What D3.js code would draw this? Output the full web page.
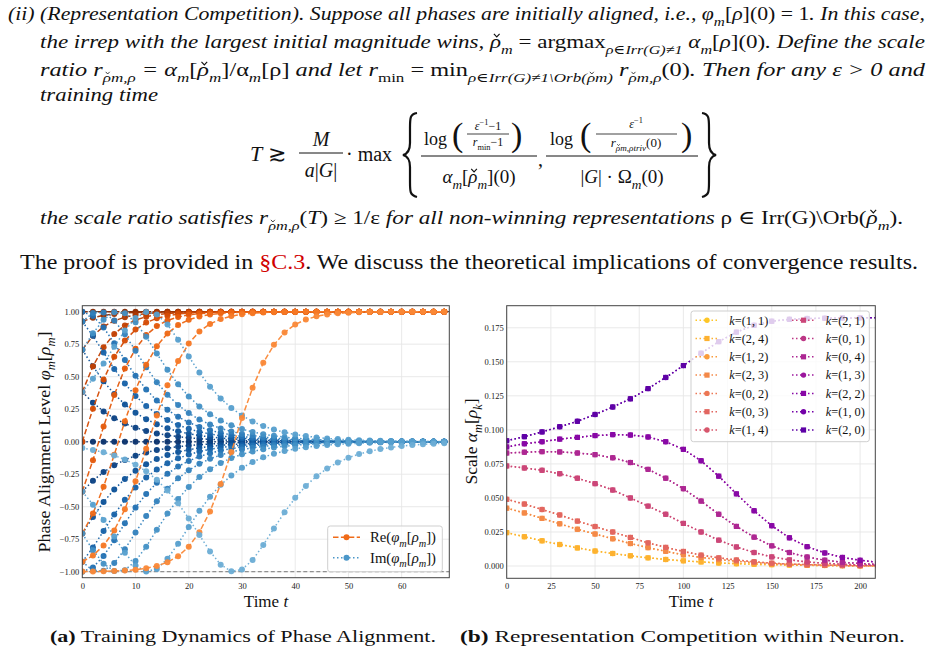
<!DOCTYPE html>
<html>
<head>
<meta charset="utf-8">
<script src="https://cdn.jsdelivr.net/npm/d3@7"></script>
<style>
  body { margin: 0; background: #fff; }
  svg { display: block; }
</style>
</head>
<body>
<div id="page"></div>
<script>
// ---------- panel (a): phase alignment, one marker every 2 time units ----------
var timeA = [0,2,4,6,8,10,12,14,16,18,20,22,24,26,28,30,32,34,36,38,40,42,44,46,48,50,52,54,56,58,60,62,64,66,68];

// real parts, one per initial phase magnitude (mirrored phases share them)
var reP0 = [1,1,1,1,1, 1,1,1,1,1, 1,1,1,1,1, 1,1,1,1,1, 1,1,1,1,1, 1,1,1,1,1, 1,1,1,1,1];
var reP1 = [0.924,0.954,0.972,0.983,0.990,0.994,0.997,0.998,0.999, 1,1,1,1,1, 1,1,1,1,1, 1,1,1,1,1, 1,1,1,1,1, 1,1,1,1,1, 1];
var reP2 = [0.707,0.815,0.886,0.930,0.958,0.975,0.985,0.991,0.995,0.997,0.998,0.999, 1,1,1,1,1, 1,1,1,1,1, 1,1,1,1,1, 1,1,1,1,1, 1,1,1];
var reP3 = [0.383,0.580,0.727,0.829,0.894,0.936,0.961,0.977,0.986,0.992,0.995,0.997,0.998,0.999, 1,1,1,1,1, 1,1,1,1,1, 1,1,1,1,1, 1,1,1,1,1, 1];
var reP4 = [0,0.254,0.478,0.653,0.778,0.862,0.916,0.949,0.969,0.982,0.989,0.993,0.996,0.998,0.999, 1,1,1,1,1, 1,1,1,1,1, 1,1,1,1,1, 1,1,1,1,1];
var reP5 = [-0.383,-0.142,0.116,0.360,0.563,0.715,0.820,0.889,0.933,0.959,0.976,0.985,0.991,0.995,0.997,0.998,0.999, 1,1,1,1,1, 1,1,1,1,1, 1,1,1,1,1, 1,1,1];
var reP6 = [-0.707,-0.552,-0.346,-0.101,0.157,0.396,0.591,0.735,0.833,0.897,0.938,0.962,0.978,0.987,0.992,0.995,0.997,0.998,0.999, 1,1,1,1,1, 1,1,1,1,1, 1,1,1,1,1, 1];
var reP7 = [-0.924,-0.875,-0.799,-0.683,-0.519,-0.305,-0.055,0.202,0.434,0.620,0.755,0.847,0.906,0.943,0.966,0.980,0.988,0.993,0.996,0.997,0.998,0.999, 1,1,1,1,1, 1,1,1,1,1, 1,1,1];
var reP8 = [-0.999,-0.998,-0.997,-0.994,-0.991,-0.984,-0.974,-0.956,-0.927,-0.881,-0.807,-0.696,-0.537,-0.325,-0.080,0.182,0.415,0.607,0.745,0.840,0.902,0.940,0.964,0.979,0.987,0.992,0.995,0.997,0.998,0.999, 1,1,1,1,1];

// imaginary parts, P = positive start, N = negative start
var imP0 = [0,0,0,0,0, 0,0,0,0,0, 0,0,0,0,0, 0,0,0,0,0, 0,0,0,0,0, 0,0,0,0,0, 0,0,0,0,0];
var imP1 = [0.383,0.300,0.233,0.181,0.140,0.108,0.083,0.064,0.050,0.038,0.030,0.023,0.018,0.014,0.010,0.008,0.006,0.005,0.004,0.003,0.002,0.002,0.001,0.001,0.001, 0,0,0,0,0, 0,0,0,0,0];
var imN1 = [-0.383,-0.300,-0.233,-0.181,-0.140,-0.108,-0.083,-0.064,-0.050,-0.038,-0.030,-0.023,-0.018,-0.014,-0.010,-0.008,-0.006,-0.005,-0.004,-0.003,-0.002,-0.002,-0.001,-0.001,-0.001, 0,0,0,0,0, 0,0,0,0,0];
var imP2 = [0.707,0.580,0.464,0.367,0.287,0.223,0.173,0.134,0.103,0.080,0.062,0.047,0.037,0.028,0.022,0.017,0.013,0.010,0.008,0.006,0.005,0.004,0.003,0.002,0.002,0.001,0.001, 0,0,0,0,0, 0,0,0];
var imN2 = [-0.707,-0.580,-0.464,-0.367,-0.287,-0.223,-0.173,-0.134,-0.103,-0.080,-0.062,-0.047,-0.037,-0.028,-0.022,-0.017,-0.013,-0.010,-0.008,-0.006,-0.005,-0.004,-0.003,-0.002,-0.002,-0.001,-0.001, 0,0,0,0,0, 0,0,0];
var imP3 = [0.924,0.814,0.686,0.560,0.447,0.352,0.275,0.214,0.166,0.128,0.099,0.076,0.059,0.045,0.035,0.027,0.021,0.016,0.012,0.010,0.007,0.006,0.004,0.003,0.003,0.002,0.002,0.001,0.001, 0,0,0,0,0, 0];
var imN3 = [-0.924,-0.814,-0.686,-0.560,-0.447,-0.352,-0.275,-0.214,-0.166,-0.128,-0.099,-0.076,-0.059,-0.045,-0.035,-0.027,-0.021,-0.016,-0.012,-0.010,-0.007,-0.006,-0.004,-0.003,-0.003,-0.002,-0.002,-0.001,-0.001, 0,0,0,0,0, 0];
var imP4 = [1,0.967,0.879,0.758,0.628,0.507,0.402,0.316,0.246,0.191,0.148,0.114,0.088,0.068,0.053,0.040,0.031,0.024,0.019,0.014,0.011,0.009,0.007,0.005,0.004,0.003,0.002,0.002,0.001,0.001,0.001, 0,0,0,0];
var imN4 = [-1,-0.967,-0.879,-0.758,-0.628,-0.507,-0.402,-0.316,-0.246,-0.191,-0.148,-0.114,-0.088,-0.068,-0.053,-0.040,-0.031,-0.024,-0.019,-0.014,-0.011,-0.009,-0.007,-0.005,-0.004,-0.003,-0.002,-0.002,-0.001,-0.001,-0.001, 0,0,0,0];
var imP5 = [0.924,0.990,0.993,0.933,0.827,0.699,0.572,0.458,0.361,0.282,0.220,0.170,0.132,0.102,0.079,0.060,0.047,0.036,0.028,0.021,0.017,0.013,0.010,0.008,0.006,0.004,0.003,0.003,0.002,0.002,0.001,0.001,0.001, 0,0];
var imN5 = [-0.924,-0.990,-0.993,-0.933,-0.827,-0.699,-0.572,-0.458,-0.361,-0.282,-0.220,-0.170,-0.132,-0.102,-0.079,-0.060,-0.047,-0.036,-0.028,-0.021,-0.017,-0.013,-0.010,-0.008,-0.006,-0.004,-0.003,-0.003,-0.002,-0.002,-0.001,-0.001,-0.001, 0,0];
var imP6 = [0.707,0.834,0.938,0.995,0.988,0.918,0.807,0.678,0.553,0.441,0.348,0.271,0.211,0.163,0.126,0.097,0.075,0.058,0.045,0.035,0.027,0.021,0.016,0.012,0.009,0.007,0.006,0.004,0.003,0.003,0.002,0.002,0.001,0.001,0.001];
var imN6 = [-0.707,-0.834,-0.938,-0.995,-0.988,-0.918,-0.807,-0.678,-0.553,-0.441,-0.348,-0.271,-0.211,-0.163,-0.126,-0.097,-0.075,-0.058,-0.045,-0.035,-0.027,-0.021,-0.016,-0.012,-0.009,-0.007,-0.006,-0.004,-0.003,-0.003,-0.002,-0.002,-0.001,-0.001,-0.001];
var imP7 = [0.383,0.484,0.602,0.730,0.855,0.952,0.998,0.979,0.901,0.784,0.656,0.532,0.423,0.332,0.260,0.201,0.156,0.120,0.093,0.072,0.055,0.043,0.033,0.025,0.020,0.015,0.012,0.009,0.007,0.005,0.004,0.003,0.002,0.002,0.001];
var imN7 = [-0.383,-0.484,-0.602,-0.730,-0.855,-0.952,-0.998,-0.979,-0.901,-0.784,-0.656,-0.532,-0.423,-0.332,-0.260,-0.201,-0.156,-0.120,-0.093,-0.072,-0.055,-0.043,-0.033,-0.025,-0.020,-0.015,-0.012,-0.009,-0.007,-0.005,-0.004,-0.003,-0.002,-0.002,-0.001];
var imN8 = [-0.049,-0.063,-0.082,-0.106,-0.137,-0.177,-0.228,-0.293,-0.375,-0.474,-0.590,-0.718,-0.844,-0.946,-0.997,-0.983,-0.910,-0.795,-0.667,-0.543,-0.432,-0.340,-0.265,-0.206,-0.160,-0.123,-0.095,-0.074,-0.057,-0.044,-0.034,-0.026,-0.020,-0.016,-0.012];

var reSeries = [reP0, reP1, reP2, reP3, reP4, reP5, reP6, reP7, reP8];
var imSeries = [imP0, imP1, imN1, imP2, imN2, imP3, imN3, imP4, imN4, imP5, imN5, imP6, imN6, imP7, imN7, imN8];
var imGroup  = [0, 1, 1, 2, 2, 3, 3, 4, 4, 5, 5, 6, 6, 7, 7, 8];

var xTicksA = [0, 10, 20, 30, 40, 50, 60];
var yTicksA = [-1, -0.75, -0.5, -0.25, 0, 0.25, 0.5, 0.75, 1];

// ---------- panel (b): scale of each irrep, marker every 10 time units ----------
var timeB = [0,10,20,30,40,50,60,70,80,90,100,110,120,130,140,150,160,170,180,190,200,210];
var scaleA = [0.0245,0.0215,0.0185,0.0158,0.0133,0.0110,0.0092,0.0075,0.0060,0.0048,0.0038,0.0030,0.0022,0.0017,0.0013,0.0010,0.0007,0.0005,0.0004,0.0003,0.0002,0.0001];
var scaleB = [0.0425,0.0390,0.0350,0.0310,0.0270,0.0235,0.0200,0.0165,0.0135,0.0108,0.0082,0.0063,0.0047,0.0035,0.0025,0.0017,0.0012,0.0008,0.0005,0.0003,0.0002,0.0001];
var scaleC = [0.0490,0.0455,0.0415,0.0375,0.0330,0.0290,0.0250,0.0210,0.0170,0.0137,0.0107,0.0080,0.0060,0.0044,0.0031,0.0021,0.0015,0.0010,0.0007,0.0004,0.0003,0.0002];
var scaleD = [0.0735,0.0720,0.0703,0.0678,0.0645,0.0605,0.0558,0.0500,0.0440,0.0380,0.0313,0.0250,0.0190,0.0140,0.0099,0.0067,0.0045,0.0030,0.0020,0.0013,0.0008,0.0005];
var scaleE = [0.0830,0.0836,0.0840,0.0838,0.0830,0.0818,0.0795,0.0760,0.0710,0.0645,0.0568,0.0477,0.0380,0.0291,0.0212,0.0148,0.0099,0.0066,0.0043,0.0028,0.0018,0.0012];
var scaleF = [0.0875,0.0898,0.0913,0.0932,0.0945,0.0958,0.0965,0.0962,0.0948,0.0913,0.0857,0.0773,0.0660,0.0530,0.0406,0.0296,0.0207,0.0142,0.0096,0.0063,0.0042,0.0028];
var scaleG = [0.0920,0.0950,0.0985,0.1023,0.1063,0.1113,0.1168,0.1228,0.1303,0.1385,0.1472,0.1563,0.1648,0.1718,0.1768,0.1798,0.1812,0.1818,0.1820,0.1822,0.1823,0.1823];

var kLabels = ["(1, 1)", "(2, 4)", "(1, 2)", "(2, 3)", "(0, 2)", "(0, 3)", "(1, 4)",
               "(2, 1)", "(0, 1)", "(0, 4)", "(1, 3)", "(2, 2)", "(1, 0)", "(2, 0)"];
var kValues = [scaleA, scaleA, scaleB, scaleB, scaleC, scaleC, scaleD,
               scaleD, scaleE, scaleE, scaleF, scaleF, scaleG, scaleG];

var xTicksB = [0, 25, 50, 75, 100, 125, 150, 175, 200];
var yTicksB = [0, 0.025, 0.05, 0.075, 0.1, 0.125, 0.15, 0.175];

// ---------- page ----------
var serif = "'Liberation Serif','DejaVu Serif',serif";
var svg = d3.select("#page").append("svg")
  .attr("width", 933).attr("height", 656)
  .style("background", "#fff")
  .style("font-family", serif);

// text with math-ish pieces:
// i = italic, r = roman, s = italic subscript, S = roman subscript, u = superscript, b = bold
// ic / sc = italic (subscript) letter that gets a caron drawn over it
function mathText(g, x, y, parts, o) {
  o = o || {};
  var size = o.size || 19;
  var t = g.append("text").attr("x", x).attr("y", y)
    .style("font-size", size + "px").attr("fill", "#111");
  if (o.anchor) t.attr("text-anchor", o.anchor);
  var cur = 0, marked = [];
  parts.forEach(function(p) {
    var ty = p[1];
    var sub = ty === "s" || ty === "S" || ty === "sc";
    var sup = ty === "u";
    var fs = (sub || sup) ? size * 0.7 : size;
    var off = sub ? size * 0.3 : (sup ? -size * 0.38 : 0);
    var sp = t.append("tspan").text(p[0]).attr("dy", off - cur);
    cur = off;
    if (ty === "i" || ty === "s" || ty === "ic" || ty === "sc") sp.style("font-style", "italic");
    if (sub || sup) sp.style("font-size", fs + "px");
    if (ty === "b") sp.style("font-weight", "bold");
    if (p[2]) sp.attr("fill", p[2]);
    if (ty === "ic" || ty === "sc") marked.push([sp.node(), fs]);
  });
  if (o.len) t.attr("textLength", o.len).attr("lengthAdjust", "spacingAndGlyphs");
  if (o.rotate) t.attr("transform", "rotate(" + o.rotate + "," + x + "," + y + ")");
  marked.forEach(function(m) {
    var a = m[0].getStartPositionOfChar(0), b = m[0].getEndPositionOfChar(0), fs = m[1];
    var cx = (a.x + b.x) / 2 + fs * 0.06, w = fs * 0.15;
    var top = a.y - fs * 0.74, bot = a.y - fs * 0.58;
    g.append("path")
      .attr("d", "M" + (cx - w) + "," + top + " L" + cx + "," + bot + " L" + (cx + w) + "," + top)
      .attr("fill", "none").attr("stroke", "#111").attr("stroke-width", Math.max(0.7, fs * 0.06));
  });
  return t;
}

var txt = svg.append("g");
var rho = "\u03C1";

mathText(txt, 8, 20, [
  ["(ii) (Representation Competition). Suppose all phases are initially aligned, i.e., ", "i"],
  ["\u03C6", "i"], ["m", "s"], ["[", "r"], [rho, "i"], ["](0) = 1", "r"], [". In this case,", "i"]
], {len: 917});

mathText(txt, 40, 48, [
  ["the irrep with the largest initial magnitude wins, ", "i"], [rho, "ic"], ["m", "s"],
  [" = argmax", "r"], [rho + "\u2208Irr(G)\u22601", "s"], [" \u03B1", "i"], ["m", "s"],
  ["[", "r"], [rho, "i"], ["](0)", "r"], [". Define the scale", "i"]
], {len: 885});

mathText(txt, 40, 76, [
  ["ratio ", "i"], ["r", "i"], [rho, "sc"], ["m," + rho, "s"], [" = \u03B1", "i"], ["m", "s"],
  ["[", "r"], [rho, "ic"], ["m", "s"], ["]/\u03B1", "r"], ["m", "s"], ["[" + rho + "] ", "r"],
  ["and let ", "i"], ["r", "i"], ["min", "S"], [" = min", "r"],
  [rho + "\u2208Irr(G)\u22601\\Orb(", "s"], [rho, "sc"], ["m)", "s"], [" r", "i"], [rho, "sc"], ["m," + rho, "s"],
  ["(0)", "r"], [". Then for any \u03B5 > 0 and", "i"]
], {len: 885});

mathText(txt, 40, 101, [["training time", "i"]], {len: 118});

// display formula
var fm = svg.append("g");
mathText(fm, 250, 161, [["T", "i"]], {size: 22});
mathText(fm, 268, 161, [["\u2273", "r"]], {size: 22});
mathText(fm, 321, 146, [["M", "i"]], {size: 20, anchor: "middle"});
fm.append("line").attr("x1", 299).attr("x2", 343).attr("y1", 153).attr("y2", 153).attr("stroke", "#111").attr("stroke-width", 1);
mathText(fm, 321, 177, [["a", "i"], ["|", "r"], ["G", "i"], ["|", "r"]], {size: 20, anchor: "middle"});
mathText(fm, 346, 161, [["\u00B7 max", "r"]], {size: 20});

function brace(x0, left) {
  var s = left ? 1 : -1;
  var p = "M" + (x0 + s * 14) + ",113 C" + (x0 + s * 7) + ",114 " + (x0 + s * 7) + ",118 " + (x0 + s * 7) + ",128 " +
    "L" + (x0 + s * 7) + ",143 C" + (x0 + s * 7) + ",151 " + (x0 + s * 4) + ",154 " + x0 + ",155 " +
    "C" + (x0 + s * 4) + ",156 " + (x0 + s * 7) + ",159 " + (x0 + s * 7) + ",167 " +
    "L" + (x0 + s * 7) + ",182 C" + (x0 + s * 7) + ",192 " + (x0 + s * 7) + ",195 " + (x0 + s * 14) + ",197";
  fm.append("path").attr("d", p).attr("fill", "none").attr("stroke", "#111").attr("stroke-width", 2.2);
}
brace(403, true);
brace(716, false);

// first fraction
mathText(fm, 424, 145, [["log", "r"]], {size: 18});
mathText(fm, 452, 146, [["(", "r"]], {size: 34});
mathText(fm, 488, 130, [["\u03B5", "i"], ["\u22121", "u"], ["\u22121", "r"]], {size: 12, anchor: "middle"});
fm.append("line").attr("x1", 467).attr("x2", 509).attr("y1", 134).attr("y2", 134).attr("stroke", "#111").attr("stroke-width", 0.8);
mathText(fm, 488, 146, [["r", "i"], ["min", "S"], ["\u22121", "r"]], {size: 12, anchor: "middle"});
mathText(fm, 511, 146, [[")", "r"]], {size: 34});
fm.append("line").attr("x1", 421).attr("x2", 537).attr("y1", 156).attr("y2", 156).attr("stroke", "#111").attr("stroke-width", 1);
mathText(fm, 479, 183, [["\u03B1", "i"], ["m", "s"], ["[", "r"], [rho, "ic"], ["m", "s"], ["](0)", "r"]], {size: 19, anchor: "middle"});
mathText(fm, 538, 166, [[",", "r"]], {size: 20});

// second fraction
mathText(fm, 550, 145, [["log", "r"]], {size: 18});
mathText(fm, 580, 146, [["(", "r"]], {size: 34});
mathText(fm, 636, 128, [["\u03B5", "i"], ["\u22121", "u"]], {size: 12, anchor: "middle"});
fm.append("line").attr("x1", 596).attr("x2", 677).attr("y1", 134).attr("y2", 134).attr("stroke", "#111").attr("stroke-width", 0.8);
mathText(fm, 636, 147, [["r", "i"], [rho, "sc"], ["m," + rho + "triv", "s"], ["(0)", "r"]], {size: 13, anchor: "middle"});
mathText(fm, 681, 146, [[")", "r"]], {size: 34});
fm.append("line").attr("x1", 546).attr("x2", 698).attr("y1", 156).attr("y2", 156).attr("stroke", "#111").attr("stroke-width", 1);
mathText(fm, 622, 183, [["|", "r"], ["G", "i"], ["| \u00B7 \u03A9", "r"], ["m", "s"], ["(0)", "r"]], {size: 19, anchor: "middle"});

mathText(txt, 40, 224, [
  ["the scale ratio satisfies ", "i"], ["r", "i"], [rho, "sc"], ["m," + rho, "s"], ["(", "r"], ["T", "i"],
  [") \u2265 1/\u03B5", "r"], [" for all non-winning representations ", "i"],
  [rho + " \u2208 Irr(G)\\Orb(", "r"], [rho, "ic"], ["m", "s"], [").", "r"]
], {len: 863});

mathText(txt, 20, 269, [
  ["The proof is provided in ", "r"], ["\u00A7C.3", "r", "#d10000"],
  [". We discuss the theoretical implications of convergence results.", "r"]
], {size: 20, len: 898});

// captions
mathText(txt, 50, 642, [["(a)", "b"], [" Training Dynamics of Phase Alignment.", "r"]], {size: 17, len: 386});
mathText(txt, 460, 642, [["(b)", "b"], [" Representation Competition within Neuron.", "r"]], {size: 17, len: 445});

// ---------- shared axis frame ----------
function frame(g, x, y, xt, yt, fmt) {
  var x0 = x.range()[0], x1 = x.range()[1], y0 = y.range()[0], y1 = y.range()[1];
  g.append("g").selectAll("line").data(xt).join("line")
    .attr("x1", function(d) { return x(d); }).attr("x2", function(d) { return x(d); })
    .attr("y1", y0).attr("y2", y1).attr("stroke", "#e6e6e6").attr("stroke-width", 0.9);
  g.append("g").selectAll("line").data(yt).join("line")
    .attr("y1", function(d) { return y(d); }).attr("y2", function(d) { return y(d); })
    .attr("x1", x0).attr("x2", x1).attr("stroke", "#e6e6e6").attr("stroke-width", 0.9);
  var ax = g.append("g").attr("transform", "translate(0," + y0 + ")")
    .call(d3.axisBottom(x).tickValues(xt).tickSize(0).tickPadding(5).tickFormat(d3.format("d")));
  var ay = g.append("g").attr("transform", "translate(" + x0 + ",0)")
    .call(d3.axisLeft(y).tickValues(yt).tickSize(0).tickPadding(3).tickFormat(d3.format(fmt)));
  [ax, ay].forEach(function(a) {
    a.select(".domain").remove();
    a.selectAll("text").style("font-family", serif).style("font-size", "8.5px").attr("fill", "#222");
  });
}
function border(g, x, y) {
  g.append("rect").attr("x", x.range()[0]).attr("y", y.range()[1])
    .attr("width", x.range()[1] - x.range()[0]).attr("height", y.range()[0] - y.range()[1])
    .attr("fill", "none").attr("stroke", "#444").attr("stroke-width", 1);
}

// ---------- panel (a) ----------
var xA = d3.scaleLinear().domain([0, 68.95]).range([82.3, 449.3]);
var yA = d3.scaleLinear().domain([-1.046, 1.046]).range([577.7, 305.7]);
var gA = svg.append("g");
frame(gA, xA, yA, xTicksA, yTicksA, ".2f");

svg.append("clipPath").attr("id", "clipA").append("rect")
  .attr("x", 82.3).attr("y", 305.7).attr("width", 367).attr("height", 272);
var plotA = gA.append("g").attr("clip-path", "url(#clipA)");

[1, -1].forEach(function(v) {
  plotA.append("line").attr("x1", xA(0)).attr("x2", xA(68.95)).attr("y1", yA(v)).attr("y2", yA(v))
    .attr("stroke", v > 0 ? "#333" : "#777").attr("stroke-width", 1).attr("stroke-dasharray", "4,2.5");
});

function reColor(gi) { return d3.interpolateOranges(0.98 - gi * 0.058); }
function imColor(gi) { return d3.interpolateBlues(1.0 - gi * 0.062); }

function drawSeries(layer, x, y, ts, vals, color, dash, r) {
  var pts = ts.map(function(t, i) { return [t, vals[i]]; });
  layer.append("path").datum(pts)
    .attr("d", d3.line().x(function(d) { return x(d[0]); }).y(function(d) { return y(d[1]); }))
    .attr("fill", "none").attr("stroke", color).attr("stroke-width", 1.5)
    .attr("stroke-dasharray", dash).attr("opacity", 0.95);
  layer.append("g").selectAll("circle").data(pts).join("circle")
    .attr("cx", function(d) { return x(d[0]); }).attr("cy", function(d) { return y(d[1]); })
    .attr("r", r).attr("fill", color).attr("opacity", 0.95);
}

reSeries.forEach(function(re, gi) {
  drawSeries(plotA, xA, yA, timeA, re, reColor(gi), "5.5,2.4", 3);
  imSeries.forEach(function(im, j) {
    if (imGroup[j] === gi) drawSeries(plotA, xA, yA, timeA, im, imColor(gi), "1.5,2.5", 3);
  });
});
border(gA, xA, yA);

mathText(gA, 266, 607, [["Time ", "r"], ["t", "i"]], {size: 17, anchor: "middle"});
mathText(gA, 50, 442, [["Phase Alignment Level ", "r"], ["\u03C6", "i"], ["m", "s"], ["[", "r"], [rho, "i"], ["m", "s"], ["]", "r"]],
  {size: 17, anchor: "middle", rotate: -90, len: 221});

// legend (a)
var legA = gA.append("g");
legA.append("rect").attr("x", 327.7).attr("y", 526).attr("width", 114.6).attr("height", 45.7)
  .attr("rx", 2.5).attr("fill", "#fff").attr("fill-opacity", 0.8).attr("stroke", "#cfcfcf");
[["Re", d3.interpolateOranges(0.62), "5.5,2.4", 537.3], ["Im", d3.interpolateBlues(0.6), "1.5,2.5", 557.7]].forEach(function(e) {
  legA.append("line").attr("x1", 333).attr("x2", 360).attr("y1", e[3]).attr("y2", e[3])
    .attr("stroke", e[1]).attr("stroke-width", 1.5).attr("stroke-dasharray", e[2]);
  legA.append("circle").attr("cx", 346.5).attr("cy", e[3]).attr("r", 3).attr("fill", e[1]);
  mathText(legA, 370, e[3] + 5, [[e[0] + "(", "r"], ["\u03C6", "i"], ["m", "s"], ["[", "r"], [rho, "i"], ["m", "s"], ["])", "r"]],
    {size: 14.5, len: 66});
});

// ---------- panel (b) ----------
var xB = d3.scaleLinear().domain([0, 208.6]).range([506.7, 875.3]);
var yB = d3.scaleLinear().domain([-0.00903, 0.1912]).range([578.3, 305.7]);
var gB = svg.append("g");
frame(gB, xB, yB, xTicksB, yTicksB, ".3f");

svg.append("clipPath").attr("id", "clipB").append("rect")
  .attr("x", 506.7).attr("y", 305.7).attr("width", 368.6).attr("height", 272.6);
var plotB = gB.append("g").attr("clip-path", "url(#clipB)");

function kColor(i) { return d3.interpolatePlasma(0.88 - i * 0.0546); }

kValues.forEach(function(vals, i) {
  var color = kColor(i);
  var pts = timeB.map(function(t, j) { return [t, vals[j]]; });
  plotB.append("path").datum(pts)
    .attr("d", d3.line().x(function(d) { return xB(d[0]); }).y(function(d) { return yB(d[1]); }))
    .attr("fill", "none").attr("stroke", color).attr("stroke-width", 1.5).attr("stroke-dasharray", "1.5,2.5");
  var m = plotB.append("g");
  if (i % 2 === 0) {
    m.selectAll("circle").data(pts).join("circle")
      .attr("cx", function(d) { return xB(d[0]); }).attr("cy", function(d) { return yB(d[1]); })
      .attr("r", 2.7).attr("fill", color);
  } else {
    m.selectAll("rect").data(pts).join("rect")
      .attr("x", function(d) { return xB(d[0]) - 2.6; }).attr("y", function(d) { return yB(d[1]) - 2.6; })
      .attr("width", 5.2).attr("height", 5.2).attr("fill", color);
  }
});
border(gB, xB, yB);

mathText(gB, 691, 607, [["Time ", "r"], ["t", "i"]], {size: 17, anchor: "middle"});
mathText(gB, 477, 441.5, [["Scale ", "r"], ["\u03B1", "i"], ["m", "s"], ["[", "r"], [rho, "i"], ["k", "s"], ["]", "r"]],
  {size: 17, anchor: "middle", rotate: -90, len: 86});

// legend (b)
var legB = gB.append("g");
legB.append("rect").attr("x", 691).attr("y", 311).attr("width", 178.3).attr("height", 130.7)
  .attr("rx", 2.5).attr("fill", "#fff").attr("fill-opacity", 0.8).attr("stroke", "#cfcfcf");
kLabels.forEach(function(lab, i) {
  var col = i < 7 ? 0 : 1, row = i % 7;
  var yy = 320.2 + row * 18.3;
  var hx = col === 0 ? 695.5 : 792;
  var color = kColor(i);
  legB.append("line").attr("x1", hx).attr("x2", hx + 23).attr("y1", yy).attr("y2", yy)
    .attr("stroke", color).attr("stroke-width", 1.5).attr("stroke-dasharray", "1.5,2.5");
  if (i % 2 === 0) legB.append("circle").attr("cx", hx + 11.5).attr("cy", yy).attr("r", 2.7).attr("fill", color);
  else legB.append("rect").attr("x", hx + 8.9).attr("y", yy - 2.6).attr("width", 5.2).attr("height", 5.2).attr("fill", color);
  mathText(legB, col === 0 ? 729.3 : 825.8, yy + 4.3, [["k", "i"], ["=" + lab, "r"]], {size: 12.5, len: 39});
});
</script>
</body>
</html>
